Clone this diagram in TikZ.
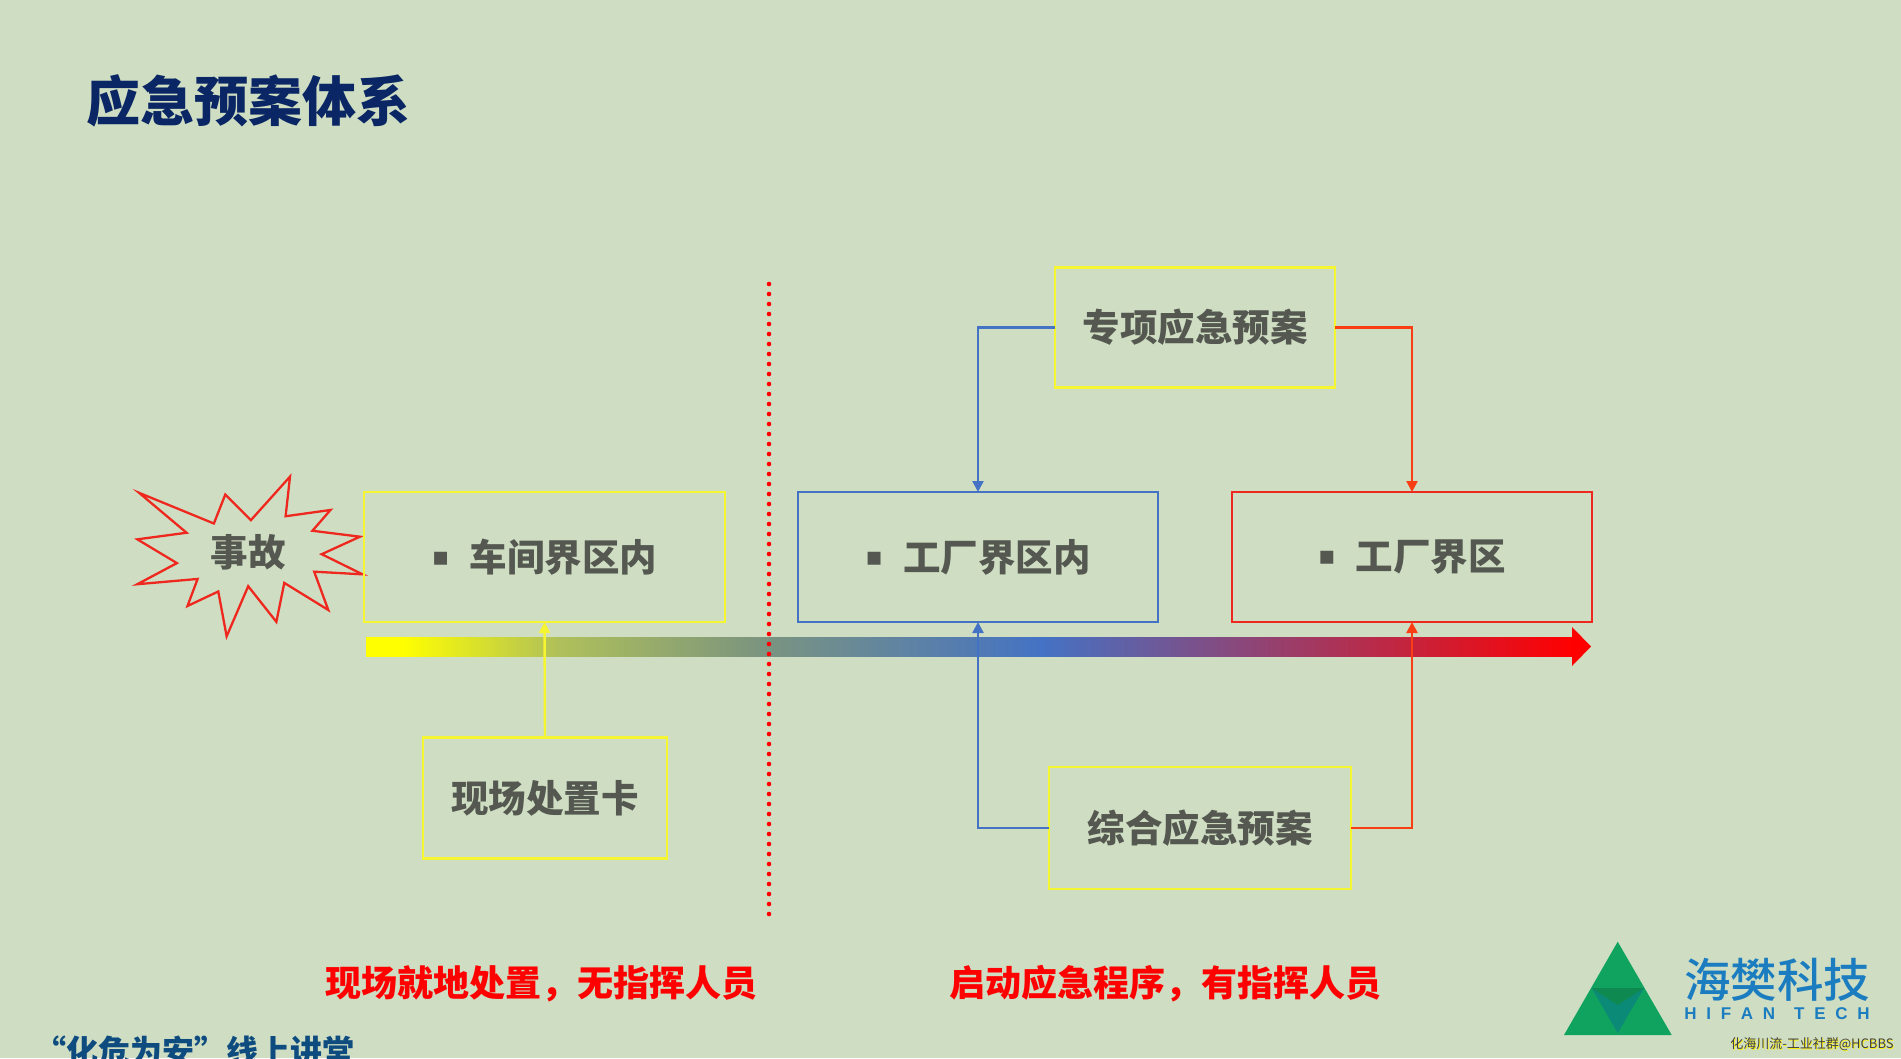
\documentclass[tikz,border=0pt]{standalone}
\usepackage{fontspec}
\setmainfont{Noto Sans CJK SC}[BoldFont={Noto Sans CJK SC Black}]
\newfontfamily\djv{DejaVu Sans}
\newfontfamily\lib{Liberation Sans}
\newfontfamily\cjkbold{Noto Sans CJK SC Medium}
\usetikzlibrary{arrows.meta,calc}
\definecolor{bgc}{RGB}{207,222,195}
\definecolor{txtg}{RGB}{84,88,80}
\definecolor{navy}{RGB}{10,38,100}
\definecolor{teal}{RGB}{14,76,128}
\definecolor{bluel}{RGB}{68,114,196}
\definecolor{redb}{RGB}{238,40,30}
\definecolor{orgl}{RGB}{250,62,20}
\definecolor{yell}{RGB}{245,245,50}
\definecolor{logog}{RGB}{16,163,95}
\definecolor{logod}{RGB}{12,138,120}
\definecolor{logob}{RGB}{27,125,192}
\definecolor{bar1}{RGB}{175,192,90}
\definecolor{bar2}{RGB}{125,150,125}
\pgfdeclarehorizontalshading{barshade}{100bp}{color(0bp)=(yellow);color(26.5bp)=(yellow);color(33bp)=(bar1);color(41bp)=(bar2);color(53bp)=(bluel);color(75bp)=(red);color(100bp)=(red)}
\newcommand{\fs}[1]{\fontsize{#1pt}{#1pt}\selectfont}
\tikzset{
  x=1pt,y=-1pt,
  boxy/.style={draw=yell,line width=2.8pt,inner sep=0,outer sep=0,text=txtg,font=\fs{37.5}\bfseries},
  boxb/.style={boxy,draw=bluel,line width=2.4pt},
  boxr/.style={boxy,draw=redb,line width=2.4pt},
  conn/.style={line width=2.4pt,-{Triangle[length=11pt,width=11pt]}},
  lab/.style={inner sep=0,text=red,font=\fs{36}\bfseries}
}
\newcommand{\bul}{{\djv\fs{26}\raisebox{6pt}{▪}}\hspace{20pt}}
\begin{document}
\begin{tikzpicture}
\useasboundingbox (0,0) rectangle (1901,1058);
\fill[bgc] (0,0) rectangle (1901,1058);
\node[anchor=center,inner sep=0,text=navy,font=\fs{54}\bfseries] (title) at (248,101) {应急预案体系};

% bar
\shade[shading=barshade] (366,637) rectangle (1573,656);
\fill[red] (1572,627) -- (1591,646.5) -- (1572,666) -- cycle;

% star
\begin{scope}[shift={(103,441)},x=0.44pt,y=-0.33pt]
\draw[redb,line width=2.3pt,line join=miter,miter limit=10,fill=bgc] (82,157)--(252,250)--(278,162)--(336,240)--(425,108)--(415,228)--(517,209)--(476,272)--(584,290)--(497,343)--(590,404)--(480,396)--(512,512)--(412,430)--(394,548)--(330,440)--(281,592)--(262,456)--(192,500)--(215,418)--(78,434)--(168,370)--(78,298)--(190,278)--cycle;
\end{scope}
\node[inner sep=0,text=txtg,font=\fs{37.5}\bfseries] (acc) at (248,552) {事故};

% boxes
\node[boxy,minimum width=361pt,minimum height=130pt] (a) at (544.5,557) {\bul 车间界区内};
\node[boxb,minimum width=360pt,minimum height=130pt] (b) at (978,557) {\bul 工厂界区内};
\node[boxr,minimum width=360pt,minimum height=130pt] (c) at (1412,557) {\bul 工厂界区};
\node[boxy,minimum width=280pt,minimum height=120pt] (d) at (1195,327.5) {专项应急预案};
\node[boxy,minimum width=302pt,minimum height=122pt] (e) at (1200,828) {综合应急预案};
\node[boxy,minimum width=244pt,minimum height=121pt] (f) at (545,798) {现场处置卡};

% connectors
\draw[conn,bluel] (d.west) -| (b.north);
\draw[conn,orgl] (d.east) -| (c.north);
\draw[conn,bluel] (e.west) -| (b.south);
\draw[conn,orgl] (e.east) -| (c.south);
\draw[conn,yell] (f.north) -- (a.south);

% dotted divider
\coordinate (dt) at (769,284);
\coordinate (db) at (769,916);
\draw[red,line width=4.6pt,line cap=round,dash pattern=on 0pt off 10pt] (dt) -- (db);

% labels
\node[lab] (l1) at (541.5,984) {现场就地处置，无指挥人员};
\node[lab] (l2) at (1165,984) {启动应急程序，有指挥人员};
\node[inner sep=0,text=teal,font=\fs{32}\bfseries,anchor=west] (l3) at (34,1051) {“化危为安”线上讲堂};

% logo
\fill[logog] (1617.7,941.7) -- (1671.7,1035) -- (1564,1035) -- cycle;
\fill[logod] (1591.7,988) -- (1644,988) -- (1617.7,1033) -- cycle;
\fill[logog!85!black] (1617.7,1005) -- (1644,988) -- (1591.7,988) -- cycle;
\node[inner sep=0,text=logob,font=\cjkbold\fs{46.5}] (lg) at (1777,980) {海樊科技};
\node[inner sep=0,text=logob,font=\lib\fs{17}\bfseries] (lt) at (1777,1014) {H\hspace{9.7pt}I\hspace{9.7pt}F\hspace{9.7pt}A\hspace{9.7pt}N\hspace{19pt}T\hspace{9.7pt}E\hspace{9.7pt}C\hspace{9.7pt}H};
\node[inner sep=0,text=yellow,font=\fs{13}] (wm0) at (1812.7,1045) {化海川流-工业社群@HCBBS};
\node[inner sep=0,text=black!75,font=\fs{13}] (wm) at (1812,1044.4) {化海川流-工业社群@HCBBS};
\end{tikzpicture}
\end{document}
